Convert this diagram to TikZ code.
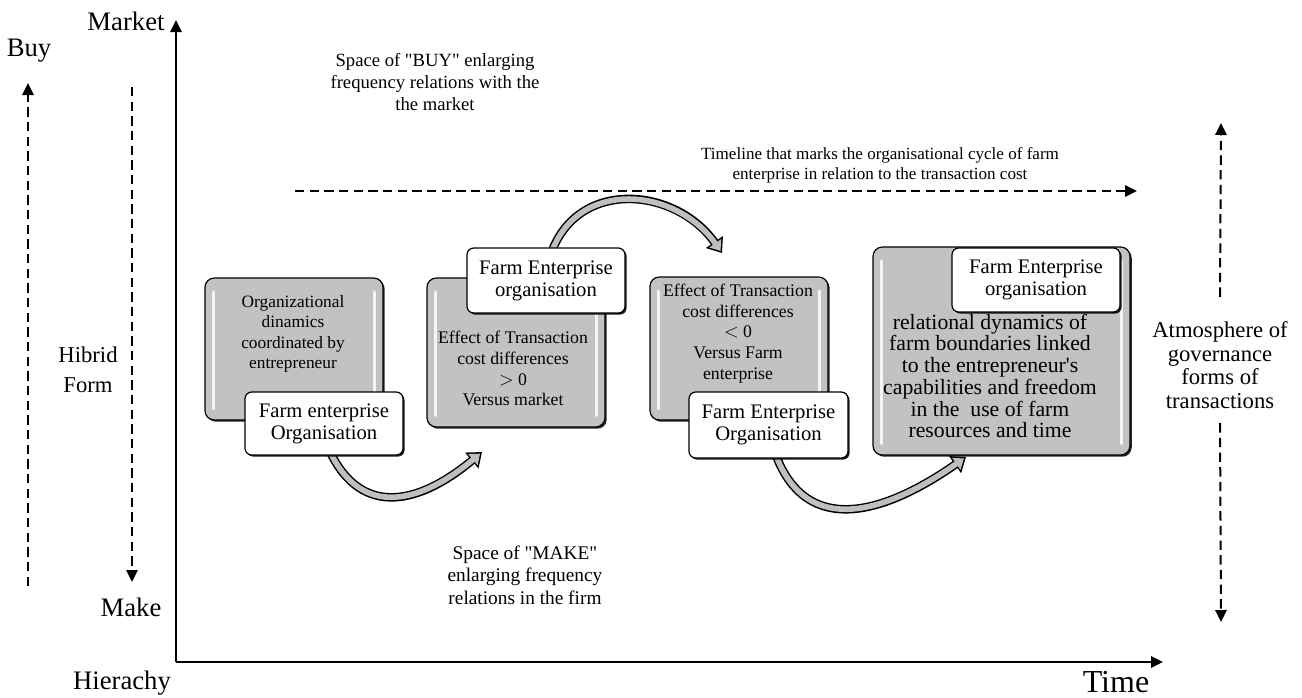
\documentclass[tikz,border=0pt]{standalone}
\usepackage{fontspec}
\setmainfont{Liberation Serif}
\newfontfamily\rawserif{Liberation Serif}
\usetikzlibrary{arrows.meta,shadows}
\pgfdeclarelayer{background}
\pgfsetlayers{background,main}
\newcommand\fs[2]{\fontsize{#1}{#2}\selectfont}
\begin{document}
\begin{tikzpicture}[x=0.75pt,y=-0.75pt,
  graybox/.style={draw=black, line width=0.9pt, fill=black!24, rounded corners=7pt,
    drop shadow={shadow xshift=1.3pt, shadow yshift=-1.3pt, opacity=0.85, fill=black}, inner sep=0pt},
  whitebox/.style={draw=black, line width=0.9pt, fill=white, rounded corners=5pt,
    drop shadow={shadow xshift=1.2pt, shadow yshift=-1.2pt, opacity=0.9, fill=black},
    align=center, inner sep=0pt, font=\fs{15.5}{16.5}},
  hl/.style={white, line width=2.6pt, line cap=round, opacity=0.85},
  graytext/.style={align=center, inner sep=0pt, font=\fs{13.3}{15.6}},
  axis/.style={line width=1.5pt, -{Triangle[length=9pt,width=8.5pt]}},
  dasharrow/.style={line width=1.5pt, dash pattern=on 7pt off 4pt, -{Triangle[length=9pt,width=8.5pt]}},
  blockout/.style={line width=6.4pt, black, -{Triangle[length=10pt,width=15pt]}},
  blockin/.style={line width=4.2pt, black!25, shorten >=1.9pt, -{Triangle[length=7pt,width=10.5pt]}},
  lbl/.style={align=center, inner sep=0pt}
]
\useasboundingbox (0,0) rectangle (1302,697);

% axes
\coordinate (O) at (176,662);
\coordinate (ytop) at (176,20);
\coordinate (xend) at (1163,662);
\draw[axis] (O) -- (ytop);
\draw[axis] (O) -- (xend);

% axis labels
\node[lbl, font=\fs{20}{22}] (market) at (126,21) {Market};
\node[lbl, font=\fs{20}{22}] (buy) at (29,51) {Buy};
\node[lbl, font=\fs{20}{22}] (make) at (131,607) {Make};
\node[lbl, font=\fs{20}{22}] (hier) at (122,683) {Hierachy};
\node[lbl, font=\fs{24}{26}] (time) at (1116,682) {Time};
\node[lbl, font=\fs{17}{22.5}] (hibrid) at (88,370) {Hibrid\\Form};

% left dashed arrows
\coordinate (buyS) at (28,586);
\coordinate (buyE) at (28,83);
\draw[dasharrow] (buyS) -- (buyE);
\coordinate (makeS) at (132,87);
\coordinate (makeE) at (132,582);
\draw[dasharrow] (makeS) -- (makeE);

% top and bottom texts
\node[lbl, font=\rawserif\fs{14}{16.2}] (buytxt) at (435,82) {Space of "BUY" enlarging\\frequency relations with the\\the market};
\node[lbl, font=\rawserif\fs{14.5}{16.8}] (maketxt) at (525,575) {Space of "MAKE"\\enlarging frequency\\relations in the firm};
\node[lbl, font=\fs{12.8}{15}] (tltxt) at (880,165) {Timeline that marks the organisational cycle of farm\\enterprise in relation to the transaction cost};

% timeline
\coordinate (tlS) at (295,191);
\coordinate (tlE) at (1137,191);
\draw[dasharrow] (tlS) -- (tlE);

% right side
\node[lbl, font=\fs{17}{17.6}] (atm) at (1220,365) {Atmosphere of\\governance\\forms of\\transactions};
\coordinate (atmT) at (1221,123);
\coordinate (atmB) at (1221,622);
\draw[dasharrow] ([yshift=-1pt]atm.north) ++(0,-26) -- (atmT);
\draw[dasharrow] ([yshift=1pt]atm.south) ++(0,16) -- (atmB);

% gray boxes
\node[graybox, minimum width=133.5pt, minimum height=106.5pt] (g1) at (294,349) {};
\node[graybox, minimum width=133.5pt, minimum height=111.75pt] (g2) at (516,352.5) {};
\node[graybox, minimum width=133.5pt, minimum height=107.25pt] (g3) at (739,348.5) {};
\node[graybox, minimum width=192.75pt, minimum height=156pt] (g4) at (1001.5,351) {};
\foreach \g in {g1,g2,g3,g4}{
  \draw[hl] ([xshift=7pt,yshift=-11pt]\g.north west) -- ([xshift=7pt,yshift=9pt]\g.south west);
  \draw[hl] ([xshift=-7pt,yshift=-11pt]\g.north east) -- ([xshift=-7pt,yshift=9pt]\g.south east);
}

% gray box texts
\node[graytext, font=\fs{13}{15.4}] (t1) at (293,334) {Organizational\\dinamics\\coordinated by\\entrepreneur};
\node[graytext] (t2) at (513,368.5) {Effect of Transaction\\cost differences\\$>$ 0\\Versus market};
\node[graytext] (t3) at (738,333.5) {Effect of Transaction\\cost differences\\$<$ 0\\Versus Farm\\enterprise};
\node[graytext, font=\fs{16.3}{16.3}] (t4) at (990,376) {relational dynamics of\\farm boundaries linked\\to the entrepreneur{\rawserif'}s\\capabilities and freedom\\in the \ use of farm\\resources and time};

% white boxes
\node[whitebox, minimum width=118.5pt, minimum height=47.25pt] (w1) at (324,423.5) {Farm enterprise\\Organisation};
\node[whitebox, minimum width=118.5pt, minimum height=48.75pt] (w2) at (546,280.5) {Farm Enterprise\\organisation};
\node[whitebox, minimum width=119.25pt, minimum height=49.5pt] (w3) at (768.5,425) {Farm Enterprise\\Organisation};
\node[whitebox, minimum width=126pt, minimum height=48pt] (w4) at (1036,280) {Farm Enterprise\\organisation};

% curved block arrows
\coordinate (aE) at (482,452);
\coordinate (bE) at (722,253);
\coordinate (cE) at (966,457);
\begin{pgfonlayer}{background}
\draw[blockout] ([xshift=4pt,yshift=4pt]w1.south) to[out=-65,in=-140,looseness=1.3] (aE);
\draw[blockin]  ([xshift=4pt,yshift=4pt]w1.south) to[out=-65,in=-140,looseness=1.3] (aE);
\draw[blockout] ([xshift=4pt,yshift=-4pt]w2.north) to[out=70,in=125,looseness=1.2] (bE);
\draw[blockin]  ([xshift=4pt,yshift=-4pt]w2.north) to[out=70,in=125,looseness=1.2] (bE);
\draw[blockout] ([xshift=5pt,yshift=4pt]w3.south) to[out=-70,in=-145,looseness=1.25] (cE);
\draw[blockin]  ([xshift=5pt,yshift=4pt]w3.south) to[out=-70,in=-145,looseness=1.25] (cE);
\end{pgfonlayer}
\end{tikzpicture}
\end{document}
